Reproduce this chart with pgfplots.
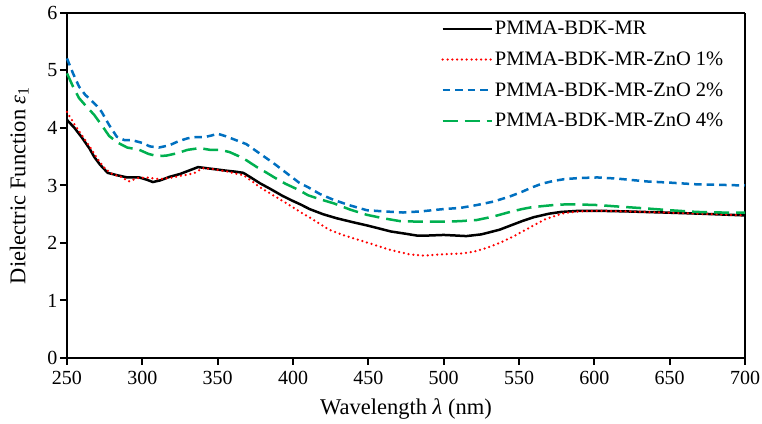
\documentclass[border=0pt]{standalone}
\usepackage{fontspec}
\setmainfont{Liberation Serif}
\usepackage{pgfplots}
\pgfplotsset{compat=1.18}
\definecolor{exred}{HTML}{FF0000}
\definecolor{exblue}{HTML}{0070C0}
\definecolor{exgreen}{HTML}{00B050}

\begin{document}
\begin{tikzpicture}
\begin{axis}[
    scale only axis,
    clip=false,
    width=678pt,
    height=345pt,
    xmin=250, xmax=700,
    ymin=0, ymax=6,
    xtick={250,300,...,700},
    ytick={0,1,...,6},
    separate axis lines,
    axis x line*=box,
    axis y line*=box,
    tick align=outside,
    tick pos=left,
    major tick length=7pt,
    axis line style={line width=2.6pt, black},
    tick style={line width=2pt, black},
    /pgf/number format/assume math mode=true,
    /pgf/number format/1000 sep={},
    ticklabel style={font=\fontsize{20}{24}\selectfont},
    xticklabel style={yshift=-3pt},
    yticklabel style={xshift=1pt},
    xlabel={Wavelength \textit{λ} (nm)},
    ylabel={Dielectric Function \textit{ε}\textsubscript{1}},
    label style={font=\fontsize{22.5}{26}\selectfont},
    xlabel style={yshift=-7pt},
    ylabel style={yshift=12pt},
    legend style={
        at={(0.552,0.982)}, anchor=north west,
        draw=none, fill=none,
        font=\fontsize{20.5}{24}\selectfont,
        row sep=11.5pt,
        inner sep=0pt,
        /tikz/every even column/.append style={column sep=4pt},
    },
    legend cell align=left,
    legend image code/.code={\draw[#1] (0pt,0pt) -- (49pt,0pt);},
]
% tick marks
\pgfplotsinvokeforeach{250,300,...,700}{
    \draw[line width=2pt, black] (axis cs:#1,0) -- ++(0pt,-6pt);
}
\pgfplotsinvokeforeach{0,1,...,6}{
    \draw[line width=2pt, black] (axis cs:250,#1) -- ++(-6pt,0pt);
}

% PMMA-BDK-MR
\addplot[black, line width=2.5pt] coordinates {
    (250,4.14) (255,4.00) (260,3.83) (265,3.64) (268,3.50) (272,3.36)
    (277,3.22) (283,3.18) (290,3.14) (298,3.14) (303,3.10) (307,3.06)
    (312,3.09) (318,3.15) (325,3.20) (332,3.27) (337,3.32) (343,3.30)
    (349,3.28) (355,3.26) (362,3.24) (367,3.22) (372,3.14) (378,3.04)
    (385,2.94) (393,2.82) (400,2.73) (405,2.67) (411,2.59) (420,2.50)
    (429,2.43) (440,2.36) (450,2.30) (456,2.26) (465,2.20) (475,2.16)
    (482,2.13) (490,2.13) (500,2.14) (508,2.13) (515,2.12) (525,2.15)
    (537,2.23) (545,2.31) (552,2.38) (560,2.45) (570,2.51) (578,2.54)
    (590,2.56) (602,2.56) (620,2.55) (646,2.53) (670,2.51) (700,2.48)
};
\addlegendentry{PMMA-BDK-MR}

% ZnO 1%
\addplot[exred, line width=2.5pt, dash pattern=on 0pt off 4.8pt, line cap=round] coordinates {
    (250,4.28) (255,4.06) (260,3.87) (265,3.68) (270,3.47) (275,3.30)
    (280,3.20) (286,3.15) (291,3.07) (297,3.13) (303,3.14) (308,3.12)
    (312,3.11) (320,3.14) (328,3.18) (334,3.21) (340,3.30) (346,3.29)
    (352,3.26) (357,3.24) (363,3.20) (367,3.18) (373,3.07) (378,2.97)
    (383,2.89) (390,2.78) (395,2.70) (400,2.62) (406,2.52) (412,2.43)
    (418,2.33) (424,2.23) (433,2.14) (444,2.05) (455,1.96) (462,1.90)
    (469,1.85) (478,1.80) (487,1.78) (497,1.80) (505,1.81) (513,1.82)
    (520,1.85) (528,1.91) (537,2.00) (546,2.11) (553,2.21) (560,2.31)
    (568,2.42) (575,2.48) (580,2.52) (590,2.55) (602,2.56) (620,2.55)
    (646,2.53) (670,2.51) (700,2.48)
};
\addlegendentry{PMMA-BDK-MR-ZnO 1\%}

% ZnO 2%
\addplot[exblue, line width=2.5pt, dash pattern=on 7.5pt off 5pt] coordinates {
    (250,5.21) (254,4.95) (258,4.72) (262,4.58) (266,4.48) (270,4.38)
    (273,4.28) (278,4.05) (283,3.85) (288,3.79) (293,3.79) (300,3.74)
    (305,3.68) (311,3.66) (318,3.70) (324,3.77) (330,3.82) (335,3.84)
    (341,3.84) (346,3.87) (350,3.90) (355,3.86) (362,3.79) (369,3.72)
    (375,3.61) (381,3.50) (387,3.39) (395,3.23) (404,3.05) (410,2.97)
    (418,2.85) (427,2.75) (437,2.66) (449,2.57) (460,2.55) (473,2.53)
    (485,2.55) (500,2.59) (511,2.61) (522,2.66) (533,2.72) (544,2.81)
    (552,2.89) (558,2.96) (565,3.03) (573,3.08) (580,3.11) (590,3.13)
    (602,3.14) (615,3.12) (635,3.07) (650,3.05) (668,3.02) (685,3.01)
    (700,3.00)
};
\addlegendentry{PMMA-BDK-MR-ZnO 2\%}

% ZnO 4%
\addplot[exgreen, line width=2.5pt, dash pattern=on 15pt off 7pt] coordinates {
    (250,4.95) (254,4.72) (258,4.52) (263,4.37) (268,4.23) (273,4.05)
    (278,3.86) (284,3.74) (290,3.66) (298,3.62) (304,3.55) (310,3.51)
    (316,3.52) (323,3.56) (330,3.62) (338,3.65) (345,3.62) (352,3.62)
    (358,3.58) (364,3.51) (369,3.44) (376,3.32) (382,3.23) (387,3.15)
    (395,3.03) (404,2.92) (410,2.83) (418,2.76) (427,2.69) (438,2.58)
    (449,2.49) (460,2.43) (471,2.38) (485,2.37) (500,2.37) (511,2.38)
    (522,2.40) (533,2.46) (544,2.54) (552,2.59) (558,2.62) (565,2.64)
    (573,2.66) (580,2.67) (590,2.67) (602,2.66) (618,2.63) (635,2.60)
    (650,2.57) (668,2.54) (685,2.53) (700,2.53)
};
\addlegendentry{PMMA-BDK-MR-ZnO 4\%}
\end{axis}
\pgfresetboundingbox
\path ([shift={(-67pt,-66pt)}]current axis.south west) rectangle ([shift={(17pt,13pt)}]current axis.north east);
\end{tikzpicture}
\end{document}
